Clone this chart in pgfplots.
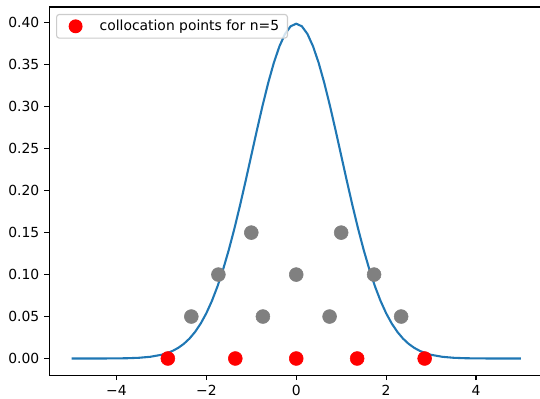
\documentclass[border=0pt]{standalone}
\usepackage{pgfplots}
\pgfplotsset{compat=1.18}
\usepackage{fontspec}
\setmainfont{DejaVu Sans}
\definecolor{mplblue}{HTML}{1F77B4}
\definecolor{mplgray}{HTML}{808080}
\definecolor{legframe}{HTML}{CCCCCC}
\pgfplotstableread{
x y
-5.0 0.0000015
-4.75 0.0000050
-4.5 0.0000160
-4.25 0.0000477
-4.0 0.000134
-3.75 0.00035
-3.5 0.00087
-3.25 0.00203
-3.0 0.00443
-2.875 0.00640
-2.75 0.00909
-2.625 0.01272
-2.5 0.01753
-2.375 0.02377
-2.25 0.03174
-2.125 0.04172
-2.0 0.05399
-1.875 0.06879
-1.75 0.08628
-1.625 0.10654
-1.5 0.12952
-1.375 0.15501
-1.25 0.18265
-1.125 0.21188
-1.0 0.24197
-0.875 0.27205
-0.75 0.30114
-0.625 0.32816
-0.5 0.35207
-0.375 0.37185
-0.25 0.38667
-0.125 0.39584
0.0 0.39894
0.125 0.39584
0.25 0.38667
0.375 0.37185
0.5 0.35207
0.625 0.32816
0.75 0.30114
0.875 0.27205
1.0 0.24197
1.125 0.21188
1.25 0.18265
1.375 0.15501
1.5 0.12952
1.625 0.10654
1.75 0.08628
1.875 0.06879
2.0 0.05399
2.125 0.04172
2.25 0.03174
2.375 0.02377
2.5 0.01753
2.625 0.01272
2.75 0.00909
2.875 0.00640
3.0 0.00443
3.25 0.00203
3.5 0.00087
3.75 0.00035
4.0 0.000134
4.25 0.0000477
4.5 0.0000160
4.75 0.0000050
5.0 0.0000015
}\pdfdata
\pgfplotstableread{
x y
-1.0 0.15
1.0 0.15
-1.7320508 0.10
0.0 0.10
1.7320508 0.10
-2.3344142 0.05
-0.7419637 0.05
0.7419637 0.05
2.3344142 0.05
}\graypts
\pgfplotstableread{
x y
-2.8569700 0
-1.3556262 0
0.0 0
1.3556262 0
2.8569700 0
}\redpts
\begin{document}
\begin{tikzpicture}
\begin{axis}[
  scale only axis,
  width=355.7bp, height=265bp,
  xmin=-5.5, xmax=5.5,
  ymin=-0.01995, ymax=0.41889,
  axis line style={line width=0.8bp},
  tick align=outside, tick pos=left,
  major tick length=3.5bp,
  every tick/.style={black, line width=0.8bp},
  xtick={-4,-2,0,2,4},
  xticklabels={−4,−2,0,2,4},
  ytick={0,0.05,0.1,0.15,0.2,0.25,0.3,0.35,0.4},
  yticklabel style={/pgf/number format/.cd, fixed, fixed zerofill, precision=2, assume math mode=true},
  /pgf/number format/assume math mode=true,
  tick label style={font=\fontsize{10bp}{12bp}\selectfont},
  legend style={at={(0,1)}, anchor=north west, xshift=5bp, yshift=-5bp,
    draw=legframe, line width=0.8bp, rounded corners=2bp, fill=white, fill opacity=0.8, text opacity=1,
    font=\fontsize{10bp}{12bp}\selectfont, inner xsep=4bp, inner ysep=2bp},
  legend cell align=left,
  legend image code/.code={\path[draw=none,fill=none] (0bp,-5bp) rectangle (25bp,5bp); \fill[red, draw=none, fill opacity=1] (9.7bp,0bp) circle (5bp);},
]
\addplot[only marks, mark=*, mark size=5bp, color=mplgray, mark options={draw=mplgray, fill=mplgray}, forget plot] table {\graypts};
\addplot[only marks, mark=*, mark size=5bp, color=red, mark options={draw=red, fill=red}] table {\redpts};
\addlegendentry{collocation points for n=5}
\addplot[mplblue, line width=1.5bp, forget plot] table {\pdfdata};
\end{axis}
\pgfresetboundingbox
\path ([xshift=-35.3bp, yshift=-16.5bp]current axis.south west) rectangle ([xshift=-2.45bp, yshift=5bp]current axis.north east);
\end{tikzpicture}
\end{document}
